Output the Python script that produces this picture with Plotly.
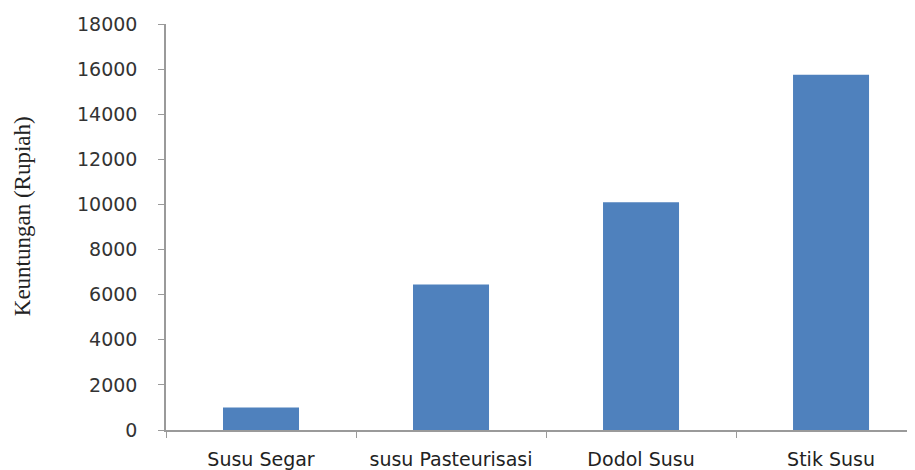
import plotly.graph_objects as go

categories = ["Susu Segar", "susu Pasteurisasi", "Dodol Susu", "Stik Susu"]
values = [1000, 6450, 10100, 15750]
y_ticks = [0, 2000, 4000, 6000, 8000, 10000, 12000, 14000, 16000, 18000]

fig = go.Figure(go.Bar(x=categories, y=values, marker=dict(color="#4F81BD", line=dict(width=0)), width=0.4))

fig.update_layout(
    width=915, height=470,
    margin=dict(l=158, r=0, t=16, b=48),
    paper_bgcolor="white", plot_bgcolor="white",
    showlegend=False,
    font=dict(family="DejaVu Sans", color="#333333"),
)
fig.update_xaxes(
    type="category", range=[-0.5, 3.484],
    showline=True, linecolor="#9a9a9a", linewidth=1.5,
    ticks="outside", tickson="boundaries", ticklen=6, tickcolor="#9a9a9a",
    ticklabelstandoff=11,
    tickfont=dict(family="DejaVu Sans", size=19, color="#222222"),
    showgrid=False, zeroline=False,
)
fig.update_yaxes(
    range=[0, 18000], tickvals=y_ticks, ticktext=[str(v) for v in y_ticks],
    showline=True, linecolor="#9a9a9a", linewidth=1.5,
    ticks="outside", ticklen=6, tickcolor="#9a9a9a",
    ticklabelstandoff=17,
    tickfont=dict(family="DejaVu Sans", size=19, color="#333333"),
    showgrid=False, zeroline=False,
)
fig.add_annotation(
    text="Keuntungan (Rupiah)", textangle=-90,
    xref="paper", yref="paper", x=-0.190, y=0.527,
    xanchor="center", yanchor="middle",
    showarrow=False, font=dict(family="Liberation Serif", size=23, color="#222222"),
)
fig.write_html("out.html")
